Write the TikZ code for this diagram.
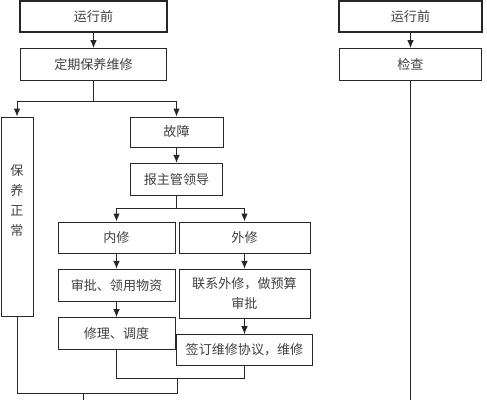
\documentclass[tikz,border=0pt]{standalone}
\usepackage{fontspec}
\newfontfamily\cjk{Noto Sans CJK SC}
\usetikzlibrary{positioning,arrows.meta}

\tikzset{
  box/.style={draw=black!85, line width=0.75pt, fill=white, text=black!75,
    font=\cjk\fontsize{9.8}{15}\selectfont, align=center, inner sep=2pt},
  startbox/.style={box, line width=1.3pt},
  flow/.style={draw=black!85, line width=0.75pt},
  arrow/.style={flow, -{Latex[length=6pt,width=5pt]}}
}

\begin{document}
\begin{tikzpicture}[x=0.75pt, y=-0.75pt, node distance=11.5pt]
  \useasboundingbox (0,0) rectangle (487,400);

  % Nodes
  \node[startbox, minimum width=110pt, minimum height=23pt] (run1) at (93.5,16.5) {运行前};
  \node[box, minimum width=109.5pt, minimum height=24pt, below=of run1] (keep) {定期保养维修};
  \node[box, minimum width=24pt, minimum height=149.25pt,
    label={[font=\cjk\fontsize{9.8}{15}\selectfont, text=black!75, align=center, yshift=12pt]center:保\\养\\正\\常}]
    (normal) at (17,216.5) {};
  \node[box, minimum width=69.75pt, minimum height=22.5pt] (fault) at (176.5,132) {故障};
  \node[box, minimum width=69pt, minimum height=24pt, below=of fault] (report) {报主管领导};
  \node[box, minimum width=87.75pt, minimum height=23.25pt] (inner) at (116.5,237.5) {内修};
  \node[box, minimum width=98.25pt, minimum height=23.25pt] (outer) at (244.5,237.5) {外修};
  \node[box, minimum width=87.75pt, minimum height=24pt, below=of inner] (approve) {审批、领用物资};
  \node[box, minimum width=87.75pt, minimum height=24pt, below=of approve] (fix) {修理、调度};
  \node[box, minimum width=98.25pt, minimum height=36.75pt, below=of outer] (contact) {联系外修，做预算\\审批};
  \node[box, minimum width=102pt, minimum height=23.25pt, below=of contact] (sign) {签订维修协议，维修};
  \node[startbox, minimum width=107pt, minimum height=23pt] (run2) at (410.5,16.5) {运行前};
  \node[box, minimum width=107pt, minimum height=24pt, below=of run2] (check) {检查};

  % Edges
  \draw[arrow] (run1) -- (keep);
  \draw[flow] (keep.south) -- ++(0,20) coordinate (split1);
  \draw[arrow] (split1) -| (normal.north);
  \draw[arrow] (split1) -| (fault.north);
  \draw[arrow] (fault) -- (report);
  \draw[flow] (report.south) -- ++(0,13) coordinate (split2);
  \draw[arrow] (split2) -| (inner.north);
  \draw[arrow] (split2) -| (outer.north);
  \draw[arrow] (inner) -- (approve);
  \draw[arrow] (approve) -- (fix);
  \draw[arrow] (outer) -- (contact);
  \draw[arrow] (contact) -- (sign);
  \draw[arrow] (run2) -- (check);

  % Joins at the bottom
  \coordinate (joinB) at (177,378);
  \coordinate (merge) at (177,393);
  \coordinate (out1) at (83,400);
  \coordinate (out2) at (check.south |- out1);
  \draw[flow] (fix.south) -- (fix.south |- joinB) -| (sign.south);
  \draw[flow] (joinB) -- (merge) -- (merge -| normal.south) -- (normal.south);
  \draw[flow] (merge -| out1) -- (out1);
  \draw[flow] (check) -- (out2);
\end{tikzpicture}
\end{document}
